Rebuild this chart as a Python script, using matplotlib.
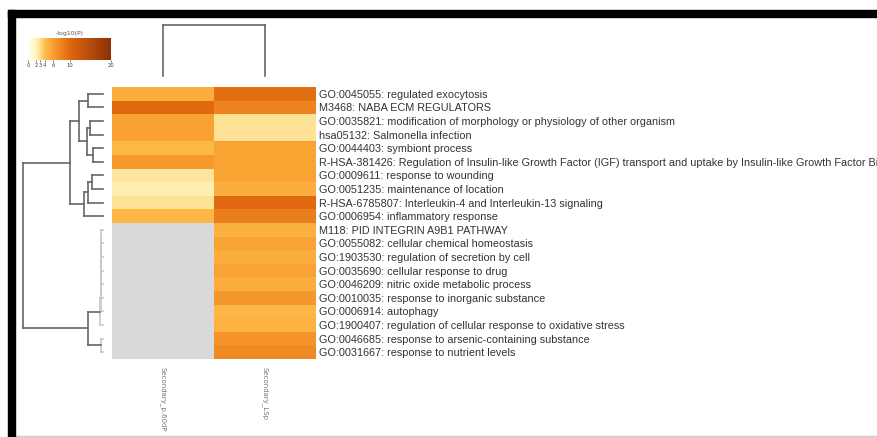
import numpy as np
import matplotlib
matplotlib.use("Agg")
import matplotlib.pyplot as plt
from matplotlib.colors import LinearSegmentedColormap, Normalize
from matplotlib.patches import Rectangle
import matplotlib.colorbar as mcolorbar

terms = [
    "GO:0045055: regulated exocytosis",
    "M3468: NABA ECM REGULATORS",
    "GO:0035821: modification of morphology or physiology of other organism",
    "hsa05132: Salmonella infection",
    "GO:0044403: symbiont process",
    "R-HSA-381426: Regulation of Insulin-like Growth Factor (IGF) transport and uptake by Insulin-like Growth Factor Binding Proteins (IGFBPs)",
    "GO:0009611: response to wounding",
    "GO:0051235: maintenance of location",
    "R-HSA-6785807: Interleukin-4 and Interleukin-13 signaling",
    "GO:0006954: inflammatory response",
    "M118: PID INTEGRIN A9B1 PATHWAY",
    "GO:0055082: cellular chemical homeostasis",
    "GO:1903530: regulation of secretion by cell",
    "GO:0035690: cellular response to drug",
    "GO:0046209: nitric oxide metabolic process",
    "GO:0010035: response to inorganic substance",
    "GO:0006914: autophagy",
    "GO:1900407: regulation of cellular response to oxidative stress",
    "GO:0046685: response to arsenic-containing substance",
    "GO:0031667: response to nutrient levels",
]
samples = ["Secondary_p.60dP", "Secondary_LSp"]

# -log10(P) per term, nan = not enriched
logp_p60 = [5.2, 10.0, 6.0, 6.0, 4.6, 6.5, 2.6, 2.2, 2.8, 4.6,
            np.nan, np.nan, np.nan, np.nan, np.nan,
            np.nan, np.nan, np.nan, np.nan, np.nan]
logp_lsp = [9.5, 8.0, 2.8, 2.8, 5.8, 5.8, 5.8, 5.2, 10.0, 8.5,
            5.0, 5.8, 5.2, 5.8, 5.2, 6.6, 4.6, 4.9, 6.8, 7.6]

cbar_ticks = [0, 2, 3, 4, 6, 10, 20]

# row tree: (child a, child b, height); new nodes numbered from 20
row_links = [
    (0, 1, 0.19), (2, 3, 0.16), (4, 5, 0.12), (21, 22, 0.20), (20, 23, 0.30),
    (6, 7, 0.14), (25, 8, 0.19), (26, 9, 0.24), (24, 27, 0.41),
    (10, 11, 0.020), (29, 12, 0.022), (30, 13, 0.024), (31, 14, 0.026),
    (32, 15, 0.028), (33, 16, 0.030), (34, 17, 0.032), (18, 19, 0.030),
    (35, 36, 0.19), (28, 37, 1.0),
]
col_links = [(0, 1, 1.0)]

W, H = 877, 437
fig = plt.figure(figsize=(W / 100, H / 100), dpi=100)
fig.patch.set_facecolor("white")

def fax(x0, y0, x1, y1):
    return fig.add_axes([x0 / W, 1 - y1 / H, (x1 - x0) / W, (y1 - y0) / H])

cmap = LinearSegmentedColormap.from_list("logp", [
    (0.0, "#FFFFF5"), (0.10, "#FFF2B8"), (0.15, "#FEDC8A"), (0.20, "#FDC050"),
    (0.30, "#F9A030"), (0.50, "#E0680F"), (1.0, "#8A3008")])
cmap.set_bad("#D9D9D9")
norm = Normalize(0, 20)

# heatmap
ax = fax(112, 87, 316, 359)
data = np.ma.masked_invalid(np.array([logp_p60, logp_lsp]).T)
ax.pcolormesh(np.arange(3), np.arange(len(terms) + 1), data, cmap=cmap, norm=norm)
ax.set_xlim(0, 2)
ax.set_ylim(len(terms), 0)
ax.set_yticks(np.arange(len(terms)) + 0.5)
ax.set_yticklabels(terms, fontsize=7.8, color="#333333",
                   family=["Liberation Sans", "DejaVu Sans"])
ax.yaxis.tick_right()
ax.set_xticks(np.arange(2) + 0.5)
ax.set_xticklabels(samples, rotation=270, fontsize=5, color="#777777")
ax.tick_params(length=0, pad=2)
ax.tick_params(axis="x", pad=6)
for s in ax.spines.values():
    s.set_visible(False)

def draw_tree(a, links, n, horizontal, colors):
    pos = {i: i + 0.5 for i in range(n)}
    hgt = {i: 0.0 for i in range(n)}
    for k, (c1, c2, h) in enumerate(links):
        node = n + k
        col = colors(h)
        for c in (c1, c2):
            if horizontal:
                a.plot([hgt[c], h], [pos[c], pos[c]], color=col, lw=1.2, clip_on=False)
            else:
                a.plot([pos[c], pos[c]], [hgt[c], h], color=col, lw=1.2, clip_on=False)
        if horizontal:
            a.plot([h, h], [pos[c1], pos[c2]], color=col, lw=1.2, clip_on=False)
        else:
            a.plot([pos[c1], pos[c2]], [h, h], color=col, lw=1.2, clip_on=False)
        pos[node] = (pos[c1] + pos[c2]) / 2
        hgt[node] = h

# row dendrogram
rax = fax(23, 87, 103, 359)
draw_tree(rax, row_links, len(terms), True,
          lambda h: "#C8C8C8" if h < 0.05 else "#666666")
rax.set_xlim(1.0, 0)
rax.set_ylim(len(terms), 0)
rax.axis("off")

# column dendrogram
cax = fax(112, 25, 316, 76)
draw_tree(cax, col_links, 2, False, lambda h: "#666666")
cax.set_xlim(0, 2)
cax.set_ylim(0, 1.0)
cax.axis("off")

# colour key
kax = fax(28, 38, 111, 60)
cb = mcolorbar.ColorbarBase(kax, cmap=cmap, norm=norm, orientation="horizontal",
                            ticks=cbar_ticks)
cb.outline.set_visible(False)
kax.tick_params(labelsize=3.8, length=1.5, width=0.5, colors="#444444", pad=1)
kax.set_title("-log10(P)", fontsize=4.5, color="#555555", pad=2)

# frame around the panel
fig.patches.append(Rectangle((8 / W, 1 - 17 / H), 1, 7 / H, transform=fig.transFigure,
                             color="black", zorder=10))
fig.patches.append(Rectangle((8 / W, 0), 7 / W, 1 - 10 / H, transform=fig.transFigure,
                             color="black", zorder=10))
fig.patches.append(Rectangle((8 / W, 0), 1, 1.5 / H, transform=fig.transFigure,
                             color="#CCCCCC", zorder=9))

fig.savefig("out.png", dpi=100)
